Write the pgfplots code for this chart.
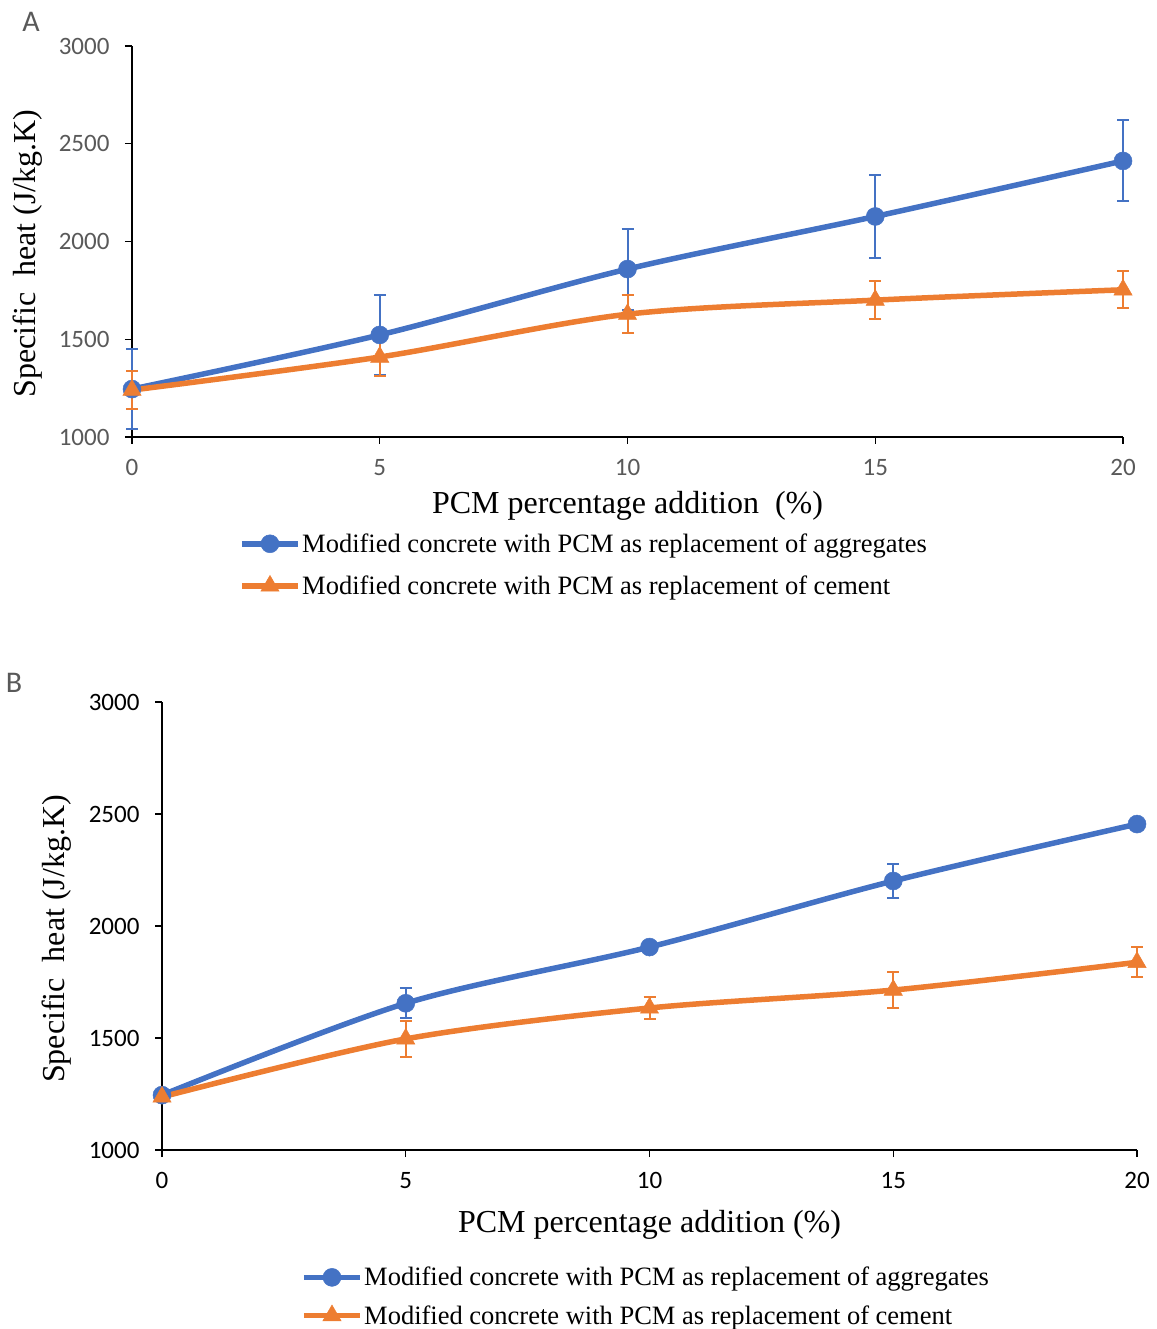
\documentclass[border=0pt]{standalone}
\usepackage{fontspec}
\setmainfont{Liberation Serif}
\newfontfamily\carlito{Carlito}
\usepackage{pgfplots}
\pgfplotsset{compat=1.18}
\definecolor{cblue}{HTML}{4472C4}
\definecolor{corange}{HTML}{ED7D31}
\definecolor{tgray}{HTML}{595959}

\pgfplotstableread{
x y e
0 1245 205
5 1522 205
10 1859 207
15 2128 210
20 2412 207
}\Ablue
\pgfplotstableread{
x y e
0 1240 97
5 1409 97
10 1628 96
15 1700 97
20 1753 94
}\Aorange
\pgfplotstableread{
x y e
0 1245 0
5 1655 67
10 1906 0
15 2201 77
20 2455 0
}\Bblue
\pgfplotstableread{
x y e
0 1237 0
5 1496 82
10 1634 50
15 1714 80
20 1838 67
}\Borange

\pgfplotsset{
 mystyle/.style={
  scale only axis,
  axis lines*=left,
  axis line style={black, line width=1.3pt},
  tick align=outside,
  major tick length=7pt,
  tick style={black,line width=1.3pt},
  xmin=0,xmax=20,ymin=1000,ymax=3000,
  xtick={0,5,10,15,20},
  ytick={1000,1500,2000,2500,3000},
  /pgf/number format/.cd, set thousands separator={}, assume math mode=true, /pgfplots/.cd,
  ticklabel style={font=\fontsize{25}{30}\selectfont\carlito},
  clip=false,
  label style={font=\fontsize{32}{36}\selectfont},
  legend cell align=left,
  legend style={draw=none, fill=none, font=\fontsize{26.5}{30}\selectfont, inner sep=0pt, column sep=0pt, nodes={inner sep=1.5pt}, anchor=north west},
  legend image code/.code={\draw[mark repeat=2,mark phase=2] plot coordinates {(0pt,0pt) (28pt,0pt) (56pt,0pt)};},
 },
 serB/.style={cblue, line width=5.5pt, smooth, mark=*, mark size=9pt,
   mark options={solid, fill=cblue, draw=cblue, line width=0.5pt},
   error bars/.cd, y dir=both, y explicit,
   error bar style={line width=2pt, cblue},
   error mark options={rotate=90, mark size=6pt, line width=2pt, cblue}},
 serO/.style={corange, line width=5.5pt, smooth, mark=triangle*, mark size=10.5pt,
   mark options={solid, fill=corange, draw=corange, line width=0.5pt},
   error bars/.cd, y dir=both, y explicit,
   error bar style={line width=2pt, corange},
   error mark options={rotate=90, mark size=6pt, line width=2pt, corange}},
}

\begin{document}
\begin{tikzpicture}
\useasboundingbox (0,0) rectangle (1156pt,1329pt);
\node[font=\fontsize{30}{36}\selectfont\carlito, text=tgray] at (31pt,1307pt) {A};
\node[font=\fontsize{30}{36}\selectfont\carlito, text=tgray] at (14pt,646pt) {B};

\begin{axis}[mystyle,
  at={(132pt,892pt)}, anchor=south west,
  width=991pt, height=391pt,
  ticklabel style={text=tgray},
  xticklabel style={yshift=-12pt},
  yticklabel style={xshift=-12pt},
  xlabel={PCM percentage addition\ \ (\%)},
  ylabel={Specific\ \ heat (J/kg.K)},
  xlabel style={at={(axis description cs:0.5,-0.177)}, anchor=center},
  ylabel style={at={(axis description cs:-0.105,0.469)}, anchor=center},
  legend style={at={(axis description cs:0.108,-0.243)}, row sep=19pt},
]
\addplot+[serB] table[x=x,y=y,y error=e] {\Ablue};
\addlegendentry{Modified concrete with PCM as replacement of aggregates}
\addplot+[serO] table[x=x,y=y,y error=e] {\Aorange};
\addlegendentry{Modified concrete with PCM as replacement of cement}
\end{axis}

\begin{axis}[mystyle,
  at={(162pt,179pt)}, anchor=south west,
  width=975pt, height=448pt,
  ticklabel style={text=black},
  xticklabel style={yshift=-12pt},
  yticklabel style={xshift=-12pt},
  xlabel={PCM percentage addition (\%)},
  ylabel={Specific\ \ heat (J/kg.K)},
  xlabel style={at={(axis description cs:0.5,-0.168)}, anchor=center},
  ylabel style={at={(axis description cs:-0.108,0.471)}, anchor=center},
  legend style={at={(axis description cs:0.1426,-0.258)}, row sep=15pt},
]
\addplot+[serB] table[x=x,y=y,y error=e] {\Bblue};
\addlegendentry{Modified concrete with PCM as replacement of aggregates}
\addplot+[serO] table[x=x,y=y,y error=e] {\Borange};
\addlegendentry{Modified concrete with PCM as replacement of cement}
\end{axis}
\end{tikzpicture}
\end{document}
